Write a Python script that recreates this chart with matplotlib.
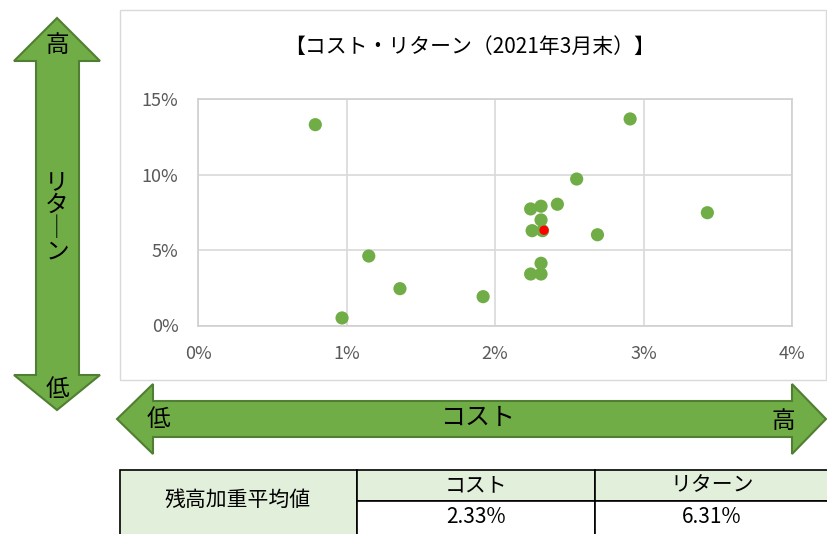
import matplotlib
matplotlib.use("Agg")
import matplotlib.pyplot as plt
from matplotlib.patches import Polygon, Rectangle

plt.rcParams['font.family'] = ['Noto Sans CJK JP', 'DejaVu Sans']

# fund cost / return (%)
cost = [0.79, 2.91, 2.55, 2.24, 2.31, 2.42, 2.31, 2.25, 2.32, 2.69, 3.43,
        2.31, 2.24, 2.31, 1.15, 1.36, 1.92, 0.97]
ret = [13.3, 13.68, 9.7, 7.72, 7.9, 8.03, 6.99, 6.28, 6.28, 6.01, 7.47,
       4.12, 3.41, 3.41, 4.6, 2.44, 1.91, 0.5]
avg_cost = 2.33
avg_ret = 6.31

title = "【コスト・リターン（2021年3月末）】"
x_ticks = [0, 1, 2, 3, 4]
y_ticks = [0, 5, 10, 15]
table_head = ["残高加重平均値", "コスト", "リターン"]

GREEN = "#70AD47"
EDGE = "#507E32"
PALE = "#E2EFDA"

W, H = 827, 534
fig = plt.figure(figsize=(W / 100, H / 100), dpi=100)

# background layer in pixel coords for arrows / table
bg = fig.add_axes([0, 0, 1, 1])
bg.set_xlim(0, W)
bg.set_ylim(H, 0)
bg.axis("off")

# chart frame
bg.add_patch(Rectangle((120, 10), W - 121, 370, fill=False, ec="#D9D9D9", lw=1))
bg.text(470, 47, title, ha="center", va="center", fontsize=15, color="#000000")

# vertical arrow (return)
v_pts = [(57, 18), (100, 61), (79, 61), (79, 375), (100, 375), (57, 410),
         (14, 375), (36, 375), (36, 61), (14, 61)]
bg.add_patch(Polygon(v_pts, closed=True, fc=GREEN, ec=EDGE, lw=1.5))
bg.text(57, 45, "高", ha="center", va="center", fontsize=17)
bg.text(57, 389, "低", ha="center", va="center", fontsize=17)
bg.text(57, 217, "リ\nタ\n│\nン", ha="center", va="center", fontsize=17,
        linespacing=1.0)

# horizontal arrow (cost)
h_pts = [(117, 419), (153, 384), (153, 401), (792, 401), (792, 384), (826, 419),
         (792, 454), (792, 437), (153, 437), (153, 454)]
bg.add_patch(Polygon(h_pts, closed=True, fc=GREEN, ec=EDGE, lw=1.5))
bg.text(158, 420, "低", ha="center", va="center", fontsize=17)
bg.text(478, 418, "コスト", ha="center", va="center", fontsize=18)
bg.text(783, 422, "高", ha="center", va="center", fontsize=17)

# summary table
bg.add_patch(Rectangle((120, 470), 237, 70, fc=PALE, ec="black", lw=1.2))
bg.add_patch(Rectangle((357, 470), 238, 31, fc=PALE, ec="black", lw=1.2))
bg.add_patch(Rectangle((595, 470), 240, 31, fc=PALE, ec="black", lw=1.2))
bg.add_patch(Rectangle((357, 501), 238, 40, fc="white", ec="black", lw=1.2))
bg.add_patch(Rectangle((595, 501), 240, 40, fc="white", ec="black", lw=1.2))
bg.text(238, 500, table_head[0], ha="center", va="center", fontsize=15)
bg.text(476, 485, table_head[1], ha="center", va="center", fontsize=15)
bg.text(712, 485, table_head[2], ha="center", va="center", fontsize=15)
bg.text(476, 517, f"{avg_cost:.2f}%", ha="center", va="center", fontsize=15)
bg.text(712, 517, f"{avg_ret:.2f}%", ha="center", va="center", fontsize=15)

# scatter plot
ax = fig.add_axes([198 / W, 1 - 325.5 / H, (792 - 198) / W, (325.5 - 99) / H])
ax.scatter(cost, ret, s=90, color=GREEN, edgecolors="none", zorder=3)
ax.scatter([avg_cost], [avg_ret], s=45, color="#FF0000", edgecolors="none", zorder=4)
ax.set_xlim(0, 4)
ax.set_ylim(0, 15)
ax.set_xticks(x_ticks)
ax.set_yticks(y_ticks)
ax.set_xticklabels([f"{t}%" for t in x_ticks])
ax.set_yticklabels([f"{t}%" for t in y_ticks])
ax.tick_params(length=0, labelsize=13, colors="#595959", pad=14)
ax.grid(True, color="#D9D9D9", lw=1.2, zorder=0)
for sp in ax.spines.values():
    sp.set_color("#D0D0D0")
    sp.set_linewidth(1.2)

fig.savefig("out.png", dpi=100)
